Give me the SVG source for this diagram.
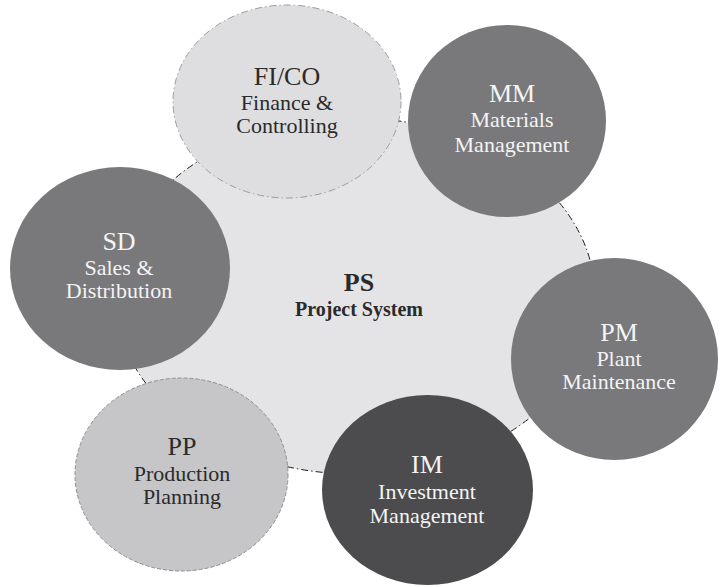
<svg xmlns="http://www.w3.org/2000/svg" width="720" height="587" viewBox="0 0 720 587">
  <style>
    .t { font-family: "Liberation Serif", "Times New Roman", serif; text-anchor: middle; }
    .title { font-size: 26px; }
    .sub { font-size: 22px; }
    .dark { fill: #2a2a2a; }
    .light { fill: #f4f4f4; }
    .core { fill: #e4e4e6; stroke: #1a1a1a; stroke-width: 1; stroke-dasharray: 7 3 1.5 3; }
    .pale { fill: #dedee0; stroke: #9c9c9e; stroke-width: 1; stroke-dasharray: 7 3 1.5 3; }
    .mid { fill: #c6c6c8; stroke: #8e8e90; stroke-width: 1; stroke-dasharray: 4 2; }
    .grey { fill: #79797c; }
    .deep { fill: #4c4c4e; }
  </style>

  <!-- central module -->
  <g id="ps">
    <ellipse class="core" cx="355" cy="296" rx="240" ry="178"/>
    <text class="t dark" x="359" y="291" font-size="26" font-weight="bold">PS</text>
    <text class="t dark" x="359" y="316" font-size="20" font-weight="bold">Project System</text>
  </g>

  <!-- surrounding modules -->
  <g id="fico">
    <ellipse class="pale" cx="287" cy="101.5" rx="114" ry="96.5"/>
    <text class="t title dark" x="287" y="85">FI/CO</text>
    <text class="t sub dark" x="287" y="110">Finance &amp;</text>
    <text class="t sub dark" x="287" y="133">Controlling</text>
  </g>

  <g id="mm">
    <ellipse class="grey" cx="507" cy="121" rx="99" ry="96"/>
    <text class="t title light" x="512" y="102">MM</text>
    <text class="t sub light" x="512" y="127">Materials</text>
    <text class="t sub light" x="512" y="152">Management</text>
  </g>

  <g id="sd">
    <ellipse class="grey" cx="120" cy="268.5" rx="110" ry="101.5"/>
    <text class="t title light" x="119" y="250">SD</text>
    <text class="t sub light" x="119" y="275">Sales &amp;</text>
    <text class="t sub light" x="119" y="298">Distribution</text>
  </g>

  <g id="pm">
    <ellipse class="grey" cx="614.5" cy="359" rx="103.5" ry="101"/>
    <text class="t title light" x="619" y="341">PM</text>
    <text class="t sub light" x="619" y="366">Plant</text>
    <text class="t sub light" x="619" y="389">Maintenance</text>
  </g>

  <g id="pp">
    <ellipse class="mid" cx="181.5" cy="474.5" rx="106.5" ry="96.5"/>
    <text class="t title dark" x="182" y="455">PP</text>
    <text class="t sub dark" x="182" y="481">Production</text>
    <text class="t sub dark" x="182" y="504">Planning</text>
  </g>

  <g id="im">
    <ellipse class="deep" cx="427.5" cy="490" rx="105.5" ry="95"/>
    <text class="t title light" x="427" y="473">IM</text>
    <text class="t sub light" x="427" y="499">Investment</text>
    <text class="t sub light" x="427" y="523">Management</text>
  </g>

  <g id="connectors"></g>
</svg>
